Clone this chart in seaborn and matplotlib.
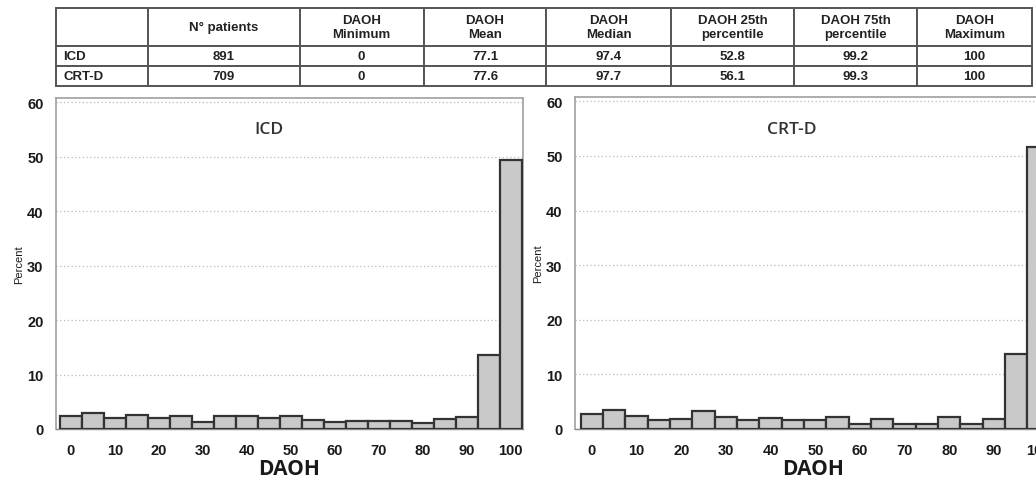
import numpy as np
import pandas as pd
import seaborn as sns
import matplotlib
matplotlib.use("Agg")
import matplotlib.pyplot as plt
from matplotlib.ticker import MultipleLocator

# ---------------- data ----------------
daoh_bins = [0, 5, 10, 15, 20, 25, 30, 35, 40, 45, 50, 55, 60, 65, 70, 75, 80, 85, 90, 95, 100]
bin_width = 5
icd_pct = [2.3, 3.0, 2.0, 2.5, 2.1, 2.3, 1.2, 2.4, 2.3, 2.1, 2.3, 1.6, 1.3, 1.4, 1.4, 1.4, 1.1, 1.8, 2.2, 13.6, 49.4]
crtd_pct = [2.7, 3.5, 2.4, 1.6, 1.8, 3.3, 2.2, 1.6, 2.0, 1.6, 1.6, 2.2, 1.0, 1.8, 0.85, 1.0, 2.2, 0.9, 1.9, 13.8, 51.7]

table_cols = ["", "N° patients", "DAOH\nMinimum", "DAOH\nMean", "DAOH\nMedian",
              "DAOH 25th\npercentile", "DAOH 75th\npercentile", "DAOH\nMaximum"]
table_rows = [["ICD", "891", "0", "77.1", "97.4", "52.8", "99.2", "100"],
              ["CRT-D", "709", "0", "77.6", "97.7", "56.1", "99.3", "100"]]
col_widths = [92, 152, 124, 123, 125, 123, 123, 115]

panel_titles = ["ICD", "CRT-D"]
x_ticks = [0, 10, 20, 30, 40, 50, 60, 70, 80, 90, 100]
y_ticks = [0, 10, 20, 30, 40, 50, 60]

# ---------------- style ----------------
sns.set_theme(style="white")
plt.rcParams["font.family"] = ["Liberation Sans", "DejaVu Sans"]

W, H = 1036, 481
fig = plt.figure(figsize=(W / 100, H / 100), dpi=100)
fig.patch.set_facecolor("white")

def px_axes(x0, x1, ytop, ybot):
    return [x0 / W, (H - ybot) / H, (x1 - x0) / W, (ybot - ytop) / H]

edges = [b - bin_width / 2 for b in daoh_bins] + [daoh_bins[-1] + bin_width / 2]

panels = [
    (px_axes(56, 523, 99, 430), icd_pct, panel_titles[0], (-3.4, 102.8)),
    (px_axes(575, 1052, 98, 430), crtd_pct, panel_titles[1], (-3.8, 103.0)),
]

for rect, vals, title, xlim in panels:
    ax = fig.add_axes(rect)
    df = pd.DataFrame({"DAOH": daoh_bins, "pct": vals})
    sns.histplot(data=df, x="DAOH", weights="pct", bins=edges, ax=ax,
                 color="#c9c9c9", edgecolor="#333333", linewidth=1.6, alpha=1.0,
                 zorder=3)
    ax.set_xlim(*xlim)
    ax.set_ylim(0, 60.8)
    ax.set_xticks(x_ticks)
    ax.set_yticks(y_ticks)
    ax.xaxis.set_minor_locator(MultipleLocator(5))
    ax.yaxis.set_minor_locator(MultipleLocator(2))
    ax.yaxis.grid(True, which="major", linestyle=(0, (1, 2)), color="#bbbbbb", linewidth=0.9, zorder=0)
    ax.xaxis.grid(False)
    for s in ["top", "right", "left"]:
        ax.spines[s].set_color("#a0a0a0")
        ax.spines[s].set_linewidth(1.2)
    ax.spines["bottom"].set_color("#888888")
    ax.spines["bottom"].set_linewidth(1.0)
    ax.tick_params(axis="both", which="major", direction="out", length=4, width=1,
                   color="#888888", labelsize=10.5, labelcolor="#1a1a1a", pad=5)
    ax.tick_params(axis="both", which="minor", direction="out", length=2.5, width=0.8,
                   color="#999999")
    ax.tick_params(axis="x", which="major", pad=6)
    for lab in ax.get_xticklabels() + ax.get_yticklabels():
        lab.set_fontweight("bold")
    ax.set_ylabel("Percent", fontsize=8, color="#1a1a1a", labelpad=2)
    ax.set_xlabel("DAOH", fontsize=15, fontweight="bold", family=["Open Sans", "DejaVu Sans"],
                  color="#1a1a1a", labelpad=1)
    ax.text(0.455, 0.905, title, transform=ax.transAxes, ha="center", va="center",
            fontsize=12.5, family=["Open Sans", "DejaVu Sans"], fontweight="semibold",
            color="#333333")

# ---------------- table ----------------
tax = fig.add_axes(px_axes(56, 1032, 9, 87))
tax.axis("off")
tw = np.array(col_widths, dtype=float)
tw = tw / tw.sum()
tbl = tax.table(cellText=table_rows, colLabels=table_cols, colWidths=list(tw),
                cellLoc="center", bbox=[0, 0, 1, 1])
tbl.auto_set_font_size(False)
for (r, c), cell in tbl.get_celld().items():
    cell.set_edgecolor("#555555")
    cell.set_linewidth(1.4)
    cell.set_height(38 if r == 0 else 20)
    txt = cell.get_text()
    txt.set_fontsize(9.5)
    txt.set_fontweight("bold")
    txt.set_color("#222222")
    txt.set_linespacing(1.3)
    if r > 0 and c == 0:
        cell.set_text_props(ha="left")
        cell.PAD = 0.08

fig.savefig("out.png", dpi=100, facecolor="white")
